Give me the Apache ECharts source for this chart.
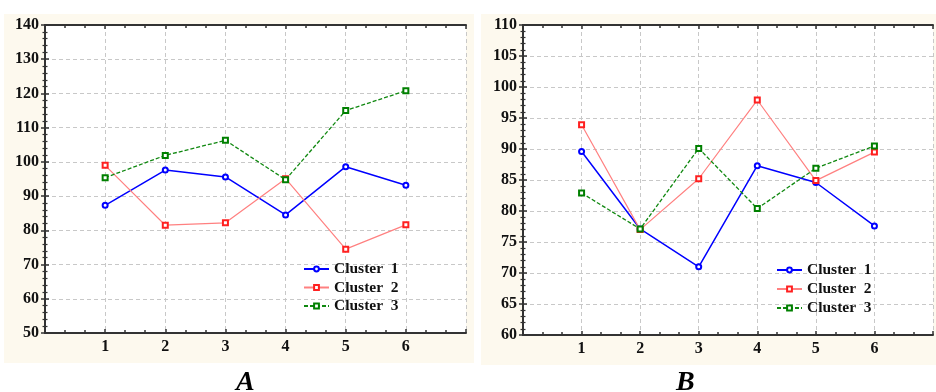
<!DOCTYPE html>
<html>
<head>
<meta charset="utf-8">
<style>
html,body{margin:0;padding:0;background:#ffffff;}
#c{width:936px;height:392px;}
</style>
<script src="https://cdn.jsdelivr.net/npm/echarts@6/dist/echarts.min.js"></script>
</head>
<body>
<div id="c"></div>
<script>
var xTicks = ['1','2','3','4','5','6'];
var seriesNames = ['Cluster  1','Cluster  2','Cluster  3'];
var panelTitles = ['A','B'];

var aCluster1 = [87.3, 97.6, 95.6, 84.5, 98.6, 93.2];
var aCluster2 = [99.0, 81.5, 82.2, 95.1, 74.5, 81.6];
var aCluster3 = [95.4, 101.9, 106.3, 94.8, 115.0, 120.8];

var bCluster1 = [89.6, 77.1, 71.0, 87.3, 84.6, 77.6];
var bCluster2 = [93.9, 77.0, 85.2, 97.9, 84.9, 89.5];
var bCluster3 = [82.9, 77.1, 90.1, 80.4, 86.9, 90.5];

var aYTicks = {min: 50, max: 140, interval: 10};
var bYTicks = {min: 60, max: 110, interval: 5};

function pts(arr){ return arr.map(function(v,i){ return [i+1, v]; }); }

var font = 'Liberation Serif';
var styles = [
  {color:'#0000ff', line:{color:'#0000ff', width:1.5, type:'solid'}, symbol:'emptyCircle'},
  {color:'#ff2020', line:{color:'#ff8080', width:1.2, type:'solid'}, symbol:'emptyRect'},
  {color:'#008000', line:{color:'#108810', width:1.3, type:[4,2]}, symbol:'emptyRect'}
];

function mkSeries(name, data, idx, grid){
  var s = styles[idx];
  return {
    name: name, type:'line', xAxisIndex: grid*2, yAxisIndex: grid*2,
    data: pts(data), symbol: s.symbol, symbolSize: 5, showSymbol:true,
    itemStyle:{color:s.color, borderWidth:1.2},
    lineStyle:s.line, animation:false, z:5
  };
}

var axisLine = {show:true, lineStyle:{color:'#333333', width:2}};
function xAx(grid, pos, showLabels){
  return {
    type:'value', gridIndex:grid, position:pos, min:0, max:7, interval:1,
    axisLine:axisLine,
    axisTick:{show:true, inside:true, length:4, lineStyle:{color:'#333', width:1.5}},
    minorTick:{show:true, splitNumber:3, length:3, lineStyle:{color:'#333', width:1.5}},
    splitLine:{show: showLabels, lineStyle:{color:'#c8c8c8', type:[4,3], width:1}},
    axisLabel:{show: showLabels, margin:6, fontFamily:font, fontWeight:'bold', fontSize:16, color:'#111',
      formatter:function(v){ return (v>=1 && v<=xTicks.length) ? xTicks[v-1] : ''; }}
  };
}
function yAx(grid, pos, t, showLabels){
  return {
    type:'value', gridIndex:grid, position:pos, min:t.min, max:t.max, interval:t.interval,
    axisLine:axisLine,
    axisTick:{show:true, inside:true, length:4, lineStyle:{color:'#333', width:1.5}},
    minorTick:{show:true, splitNumber:5, length:2.5, lineStyle:{color:'#333', width:1.2}},
    splitLine:{show: showLabels, lineStyle:{color:'#c8c8c8', type:[4,3], width:1}},
    axisLabel:{show: showLabels, margin:6, fontFamily:font, fontWeight:'bold', fontSize:16, color:'#111'}
  };
}

var legendText = {fontFamily:font, fontWeight:'bold', fontSize:15.5, color:'#111'};

var chart = echarts.init(document.getElementById('c'), null, {renderer:'canvas'});
chart.setOption({
  animation:false,
  backgroundColor:'#ffffff',
  graphic:[
    {type:'rect', shape:{x:4, y:14, width:470, height:349}, style:{fill:'#fdf9ee'}, z:-10},
    {type:'rect', shape:{x:481, y:14, width:460, height:351}, style:{fill:'#fdf9ee'}, z:-10},
    {type:'text', left:236, top:369, style:{text:panelTitles[0], font:'italic bold 28px "Liberation Serif"', fill:'#000'}},
    {type:'text', left:676, top:369, style:{text:panelTitles[1], font:'italic bold 28px "Liberation Serif"', fill:'#000'}}
  ],
  grid:[
    {left:45, top:25, width:421, height:308, show:true, backgroundColor:'#ffffff', borderWidth:0},
    {left:523, top:25, width:420, height:310, show:true, backgroundColor:'#ffffff', borderWidth:0}
  ],
  xAxis:[xAx(0,'bottom',true), xAx(0,'top',false), xAx(1,'bottom',true), xAx(1,'top',false)],
  yAxis:[yAx(0,'left',aYTicks,true), yAx(0,'right',aYTicks,false), yAx(1,'left',bYTicks,true), yAx(1,'right',bYTicks,false)],
  legend:[
    {left:303, top:261, padding:0, orient:'vertical', itemWidth:25, itemHeight:6, itemGap:2.5,
     data:seriesNames, textStyle:legendText, selectedMode:false},
    {left:776, top:262, padding:0, orient:'vertical', itemWidth:25, itemHeight:6, itemGap:3,
     data:seriesNames, textStyle:legendText, selectedMode:false}
  ],
  series:[
    mkSeries(seriesNames[0], aCluster1, 0, 0),
    mkSeries(seriesNames[1], aCluster2, 1, 0),
    mkSeries(seriesNames[2], aCluster3, 2, 0),
    mkSeries(seriesNames[0], bCluster1, 0, 1),
    mkSeries(seriesNames[1], bCluster2, 1, 1),
    mkSeries(seriesNames[2], bCluster3, 2, 1)
  ]
});
</script>
</body>
</html>
